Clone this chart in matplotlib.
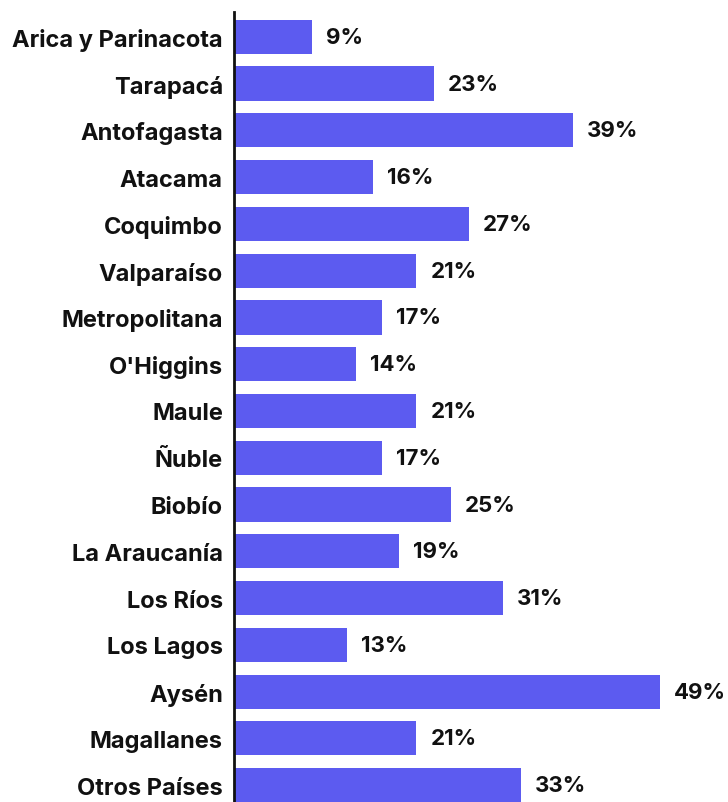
import matplotlib.pyplot as plt

regions = ['Arica y Parinacota', 'Tarapacá', 'Antofagasta', 'Atacama', 'Coquimbo',
           'Valparaíso', 'Metropolitana', "O'Higgins", 'Maule', 'Ñuble', 'Biobío',
           'La Araucanía', 'Los Ríos', 'Los Lagos', 'Aysén', 'Magallanes', 'Otros Países']
values = [9, 23, 39, 16, 27, 21, 17, 14, 21, 17, 25, 19, 31, 13, 49, 21, 33]

plt.rcParams['font.family'] = ['Inter', 'DejaVu Sans']

fig = plt.figure(figsize=(7.28, 8.03), dpi=100)
ax = fig.add_axes([234 / 728, 0, 494 / 728, 790 / 803])

y = list(range(len(regions)))
ax.barh(y, values, height=0.73, color='#5C5BF0')
for yi, v in zip(y, values):
    ax.annotate(f'{v}%', (v, yi), xytext=(10, 0), textcoords='offset points',
                va='center', ha='left', fontsize=16, fontweight='bold', color='#111111')

ax.set_xlim(0, 494 / 8.69)
ax.set_ylim(16.36, -0.53)
ax.set_yticks(y)
ax.set_yticklabels(regions, fontsize=17, fontweight='bold', color='#111111')
ax.tick_params(axis='y', length=0, pad=8)
ax.set_xticks([])
for s in ['top', 'right', 'bottom']:
    ax.spines[s].set_visible(False)
ax.spines['left'].set_linewidth(2)
ax.spines['left'].set_color('#111111')

fig.savefig('out.png', dpi=100)
